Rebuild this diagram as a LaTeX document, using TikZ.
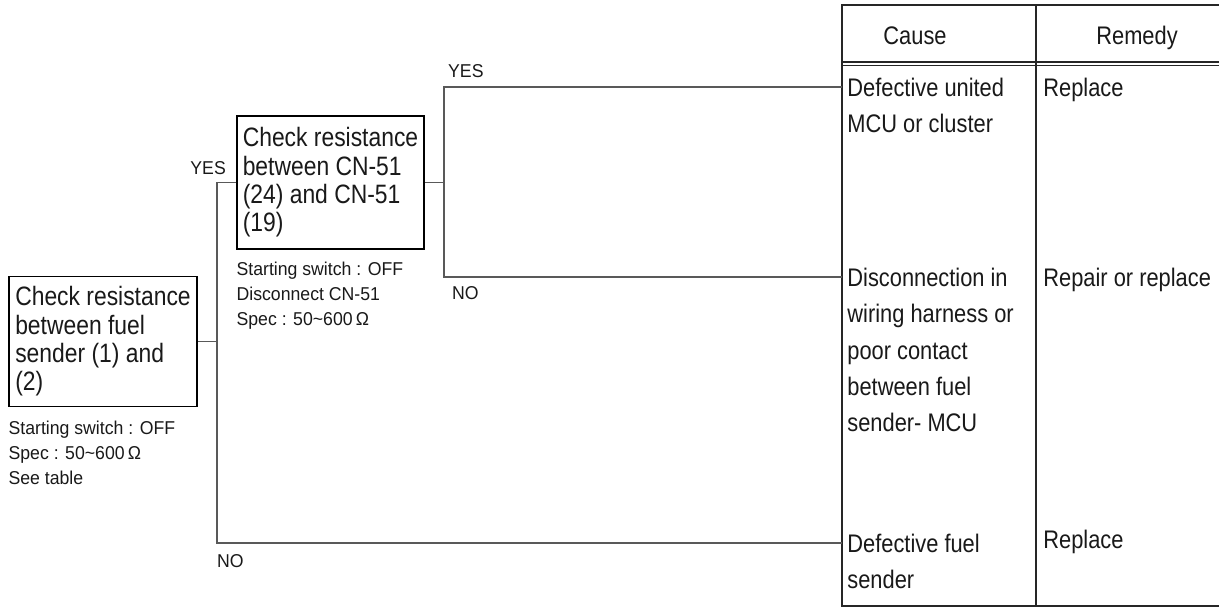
\documentclass[tikz,border=0pt]{standalone}
\usepackage{fontspec}
\setmainfont[FakeStretch=0.86]{Liberation Sans}
\newfontfamily\notefont[FakeStretch=0.95]{Liberation Sans}
\usetikzlibrary{positioning}

\begin{document}
\begin{tikzpicture}[x=0.5pt, y=-0.5pt,
  every node/.style={inner sep=0pt, align=left, text=black!90},
  checkbox/.style={draw, line width=0.8pt, minimum width=94pt, minimum height=65pt,
    font=\fontsize{13.3}{14.2}\selectfont},
  note/.style={font=\notefont\fontsize{9.3}{12.5}\selectfont},
  answer/.style={font=\notefont\fontsize{9.3}{11}\selectfont},
  cell/.style={font=\fontsize{12.7}{18.2}\selectfont, anchor=north west},
  wire/.style={draw, line width=0.7pt, black!65},
  rule/.style={line width=0.9pt, black!85}]
\useasboundingbox (0,0) rectangle (1219,607);

% checks
\node[checkbox] (chkfuel) at (103,341.5) {Check resistance\\between fuel\\sender (1) and\\(2)};
\node[checkbox, minimum width=93.5pt, minimum height=66.5pt] (chkcn) at (330.5,182.5)
  {Check resistance\\between CN-51\\(24) and CN-51\\(19)};
\node[note, below=6.5pt of chkfuel.south west, anchor=north west] (notefuel)
  {Starting switch : OFF\\Spec : 50\textasciitilde600\,Ω\\See table};
\node[note, below=6pt of chkcn.south west, anchor=north west] (notecn)
  {Starting switch : OFF\\Disconnect CN-51\\Spec : 50\textasciitilde600\,Ω};

% table
\draw[rule] (1219,5) -- (842,5) -- (842,606) -- (1219,606);
\draw[rule] (1036,5) -- (1036,606);
\draw[rule, line width=0.6pt] (842,62) -- (1219,62) (842,65.5) -- (1219,65.5);
\node[cell, anchor=base] (hcause) at (915,44.1) {Cause};
\node[cell, anchor=base] (hremedy) at (1137,44.1) {Remedy};

\coordinate (rowunit) at (842,87);
\coordinate (rowharness) at (842,277);
\coordinate (rowsender) at (842,543);
\node[cell] (causeunit) at (847,77.5) {Defective united\\MCU or cluster};
\node[cell] (remunit) at (1043,77.5) {Replace};
\node[cell] (causeharness) at (847,267.5)
  {Disconnection in\\wiring harness or\\poor contact\\between fuel\\sender- MCU};
\node[cell] (remharness) at (1043,267.5) {Repair or replace};
\node[cell] (causesender) at (847,533.5) {Defective fuel\\sender};
\node[cell] (remsender) at (1043,529.5) {Replace};

% connectors
\draw[wire] (chkfuel.east) -- ++(19,0) coordinate (forkfuel);
\draw[wire] (forkfuel) |- (chkcn.west);
\draw[wire] (forkfuel) |- (rowsender);
\draw[wire] (chkcn.east) -- ++(19,0) coordinate (forkcn);
\draw[wire] (forkcn) |- (rowunit);
\draw[wire] (forkcn) |- (rowharness);

% answers
\node[answer, anchor=east] (yescn) at ([xshift=-5pt,yshift=7.25pt]chkcn.west) {YES};
\node[answer, anchor=base west] (yesunit) at ([xshift=2pt,yshift=5pt]forkcn |- rowunit) {YES};
\node[answer, anchor=north west] (noharness) at ([xshift=4pt,yshift=-4.75pt]forkcn |- rowharness) {NO};
\node[answer, anchor=north west] (nosender) at ([xshift=0pt,yshift=-5.5pt]forkfuel |- rowsender) {NO};
\end{tikzpicture}
\end{document}
